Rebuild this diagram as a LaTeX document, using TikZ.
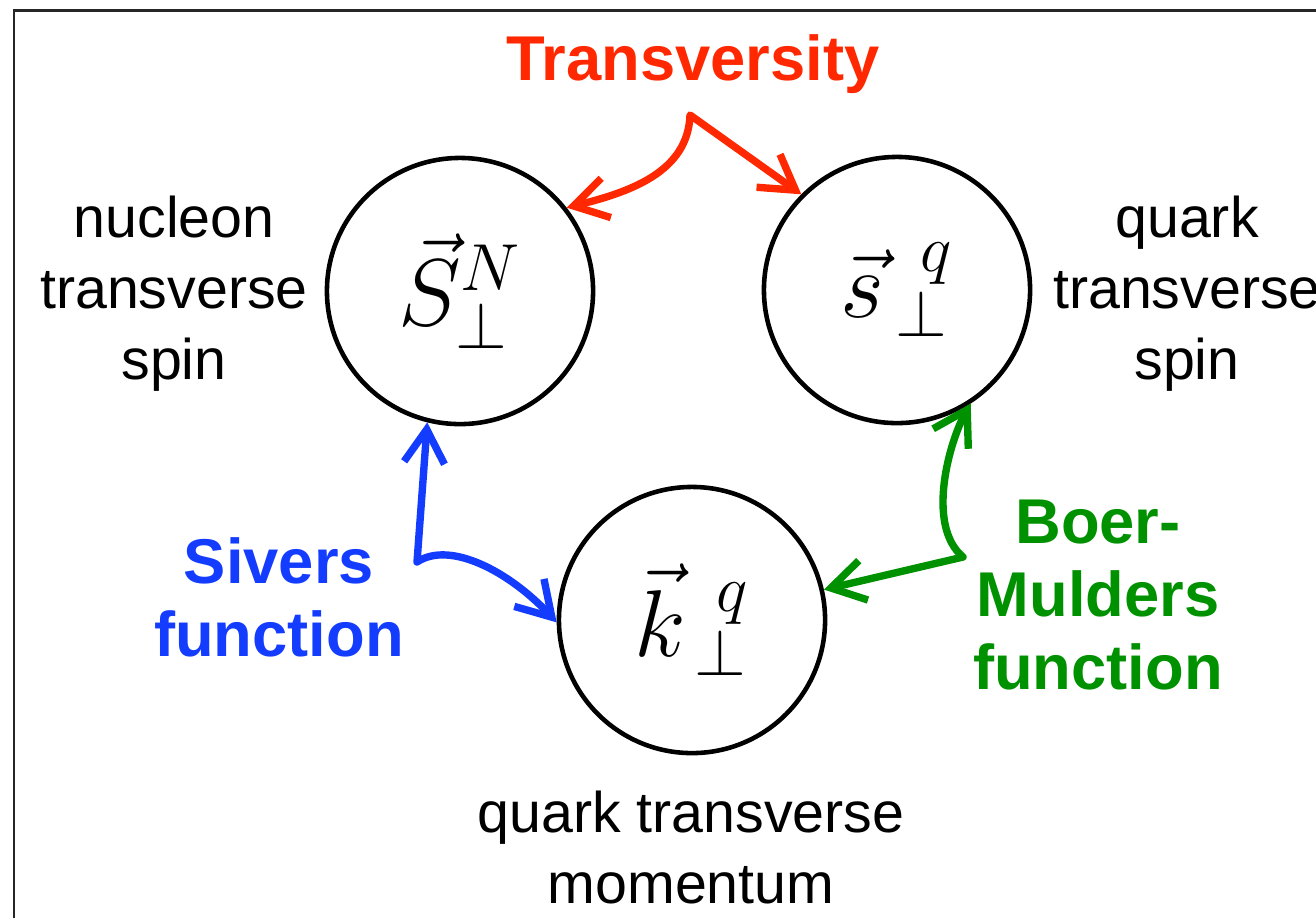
\RequirePackage{fix-cm}
\documentclass[tikz,border=0pt]{standalone}
\usepackage{fontspec}
\setmainfont{Liberation Sans}
\usetikzlibrary{arrows.meta}
\definecolor{tvred}{RGB}{255,40,0}
\definecolor{svblue}{RGB}{20,60,255}
\definecolor{bmgreen}{RGB}{0,145,0}

\begin{document}
\begin{tikzpicture}[x=.01cm,y=-.01cm,>={Straight Barb[length=9.5pt,width=11.5pt]},
  spinball/.style={circle,draw,line width=1.3pt,minimum size=2.66cm,inner sep=0pt,font=\fontsize{27}{31}\selectfont},
  lbl/.style={align=center,font=\fontsize{16.3}{20.2}\selectfont},
  fnlbl/.style={align=center,font=\fontsize{18}{20.8}\selectfont\bfseries},
  link/.style={<->,line width=2.1pt,line join=round}]
\useasboundingbox(0,0)rectangle(1316,917);
\clip(0,0)rectangle(1316,917);
\draw[line width=.85pt,black!85](14,10)rectangle(1400,1000);
% the three spins
\node[spinball](S)at(460,291){$\vec{S}^{N}_{\perp}$};
\node[spinball](s)at(897,290){${\vec{s}}^{\;\;q}_{\,\perp}$};
\node[spinball](k)at(692,620){$\vec{k}^{\;\,q}_{\,\perp}$};
\node[lbl](nlbl)at(174,294){nucleon\\transverse\\spin};
\node[lbl](qlbl)at(1187,294){quark\\transverse\\spin};
\node[lbl](klbl)at(691,847){quark transverse\\momentum};
% correlations
\node[fnlbl,text=tvred](tv)at(693,64){Transversity};
\node[fnlbl,text=svblue](sv)at(279,597){Sivers\\function};
\node[fnlbl,text=bmgreen](bm)at(1098,595){Boer-\\Mulders\\function};
\coordinate(tvc)at(690,115);\coordinate(svc)at(417,562);\coordinate(bmc)at(963,557);
\draw[link,tvred](S.38)..controls(630,192)and(688,172)..(tvc)--(s.135);
\draw[link,svblue](S.256)--(svc)..controls(450,540)and(510,572)..(k.181);
\draw[link,bmgreen](s.303)..controls(950,440)and(925,525)..(bmc)--(k.13);
\end{tikzpicture}
\end{document}
